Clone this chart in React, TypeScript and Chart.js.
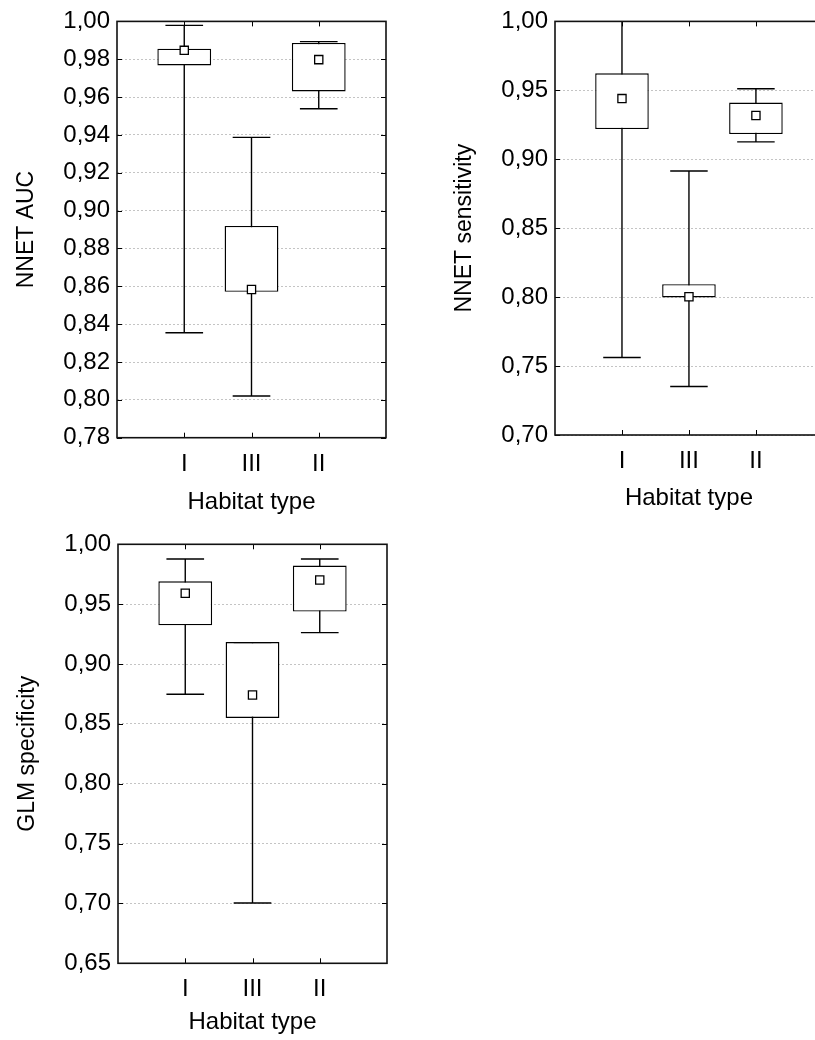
import { useEffect, useRef } from 'react';
import { Chart, registerables } from 'chart.js';
Chart.register(...registerables);

const FONT = "'Liberation Sans', Arial, sans-serif";

const categories = ['I', 'III', 'II'];
const xTitle = 'Habitat type';

// Panel 1: NNET AUC
const aucLabel = 'NNET AUC';
const aucWhiskerLow = [0.8355, 0.802, 0.9538];
const aucBoxLow = [0.9767, 0.8571, 0.963];
const aucBoxHigh = [0.9856, 0.8919, 0.9886];
const aucWhiskerHigh = [0.9979, 0.9387, 0.9893];
const aucCentre = [0.9847, 0.8583, 0.9798];
const aucAxis = [0.78, 1.0, 0.02];

// Panel 2: NNET sensitivity
const sensLabel = 'NNET sensitivity';
const sensWhiskerLow = [0.7562, 0.7352, 0.9126];
const sensBoxLow = [0.9219, 0.7998, 0.9183];
const sensBoxHigh = [0.9624, 0.8094, 0.9411];
const sensWhiskerHigh = [1.0, 0.8915, 0.9512];
const sensCentre = [0.944, 0.8003, 0.9318];
const sensAxis = [0.7, 1.0, 0.05];

// Panel 3: GLM specificity
const specLabel = 'GLM specificity';
const specWhiskerLow = [0.8747, 0.7004, 0.9262];
const specBoxLow = [0.9323, 0.8549, 0.9438];
const specBoxHigh = [0.9691, 0.9184, 0.9822];
const specWhiskerHigh = [0.9877, 0.9178, 0.9877];
const specCentre = [0.9591, 0.8741, 0.9702];
const specAxis = [0.65, 1.0, 0.05];

const framePlugin = {
  id: 'frameTicks',
  afterDraw(chart: any) {
    const { ctx, chartArea, scales } = chart;
    const { left, right, top, bottom } = chartArea;
    ctx.save();
    ctx.strokeStyle = '#000';
    ctx.lineWidth = 1;
    ctx.beginPath();
    scales.y.ticks.forEach((t: any) => {
      const py = Math.round(scales.y.getPixelForValue(t.value)) + 0.5;
      ctx.moveTo(left, py);
      ctx.lineTo(left + 5, py);
      ctx.moveTo(right, py);
      ctx.lineTo(right - 5, py);
    });
    scales.x.ticks.forEach((t: any) => {
      const px = Math.round(scales.x.getPixelForValue(t.value)) + 0.5;
      ctx.moveTo(px, bottom);
      ctx.lineTo(px, bottom - 5);
      ctx.moveTo(px, top);
      ctx.lineTo(px, top + 5);
    });
    ctx.stroke();
    ctx.lineWidth = 1.6;
    ctx.strokeStyle = '#111';
    ctx.strokeRect(left, top, right - left, bottom - top);
    ctx.restore();
  },
};

type PanelProps = {
  label: string;
  wLow: number[];
  bLow: number[];
  bHigh: number[];
  wHigh: number[];
  centre: number[];
  axis: number[];
  pos: { x: number; y: number; w: number; h: number; cw: number };
  area: { left: number; top: number; right: number; bottom: number };
  yTitlePad: number;
  xTitlePad: number;
};

function Panel(p: PanelProps) {
  const ref = useRef<HTMLCanvasElement>(null);
  useEffect(() => {
    if (!ref.current) return;
    const cap = 0.28;
    const whiskers: any[] = [];
    categories.forEach((_, i) => {
      const c = i + 1;
      whiskers.push({ x: c, y: p.wLow[i] }, { x: c, y: p.wHigh[i] }, { x: c, y: null });
      whiskers.push({ x: c - cap, y: p.wLow[i] }, { x: c + cap, y: p.wLow[i] }, { x: c, y: null });
      whiskers.push({ x: c - cap, y: p.wHigh[i] }, { x: c + cap, y: p.wHigh[i] }, { x: c, y: null });
    });
    const chart = new Chart(ref.current, {
      type: 'bar',
      data: {
        datasets: [
          {
            type: 'bar',
            data: categories.map((_, i) => ({ x: i + 1, y: [p.bLow[i], p.bHigh[i]] })) as any,
            backgroundColor: '#ffffff',
            borderColor: '#000',
            borderWidth: 1.4,
            borderSkipped: false,
            barPercentage: 0.8,
            categoryPercentage: 1,
            order: 1,
          } as any,
          {
            type: 'line',
            data: whiskers,
            borderColor: '#000',
            borderWidth: 1.4,
            pointRadius: 0,
            spanGaps: false,
            tension: 0,
            fill: false,
            order: 2,
          } as any,
          {
            type: 'scatter',
            data: categories.map((_, i) => ({ x: i + 1, y: p.centre[i] })),
            pointStyle: 'rect',
            pointRadius: 5.8,
            backgroundColor: '#ffffff',
            borderColor: '#000',
            borderWidth: 1.3,
            showLine: false,
            order: 0,
          } as any,
        ],
      },
      options: {
        animation: false,
        responsive: false,
        maintainAspectRatio: false,
        events: [],
        layout: {
          padding: {
            left: 0,
            top: p.area.top,
            right: p.pos.cw - p.area.right,
            bottom: 0,
          },
        },
        plugins: { legend: { display: false }, tooltip: { enabled: false } },
        scales: {
          x: {
            type: 'linear',
            min: 0,
            max: 4,
            offset: false,
            afterBuildTicks: (s: any) => {
              s.ticks = categories.map((_, i) => ({ value: i + 1 }));
            },
            afterFit: (s: any) => {
              s.height = p.pos.h - p.area.bottom;
            },
            grid: { display: false, drawTicks: false },
            border: { display: false },
            ticks: {
              autoSkip: false,
              maxRotation: 0,
              padding: 12,
              color: '#000',
              font: { family: FONT, size: 24 },
              callback: (v: any) => categories[Number(v) - 1] ?? '',
            },
            title: {
              display: true,
              text: xTitle,
              color: '#000',
              font: { family: FONT, size: 24 },
              padding: { top: 0, bottom: p.xTitlePad },
            },
          } as any,
          y: {
            type: 'linear',
            min: p.axis[0],
            max: p.axis[1],
            afterFit: (s: any) => {
              s.width = p.area.left;
            },
            grid: { color: '#c4c4c4', lineWidth: 1, drawTicks: false },
            border: { display: false, dash: [2, 2] },
            ticks: {
              stepSize: p.axis[2],
              autoSkip: false,
              padding: 7,
              color: '#000',
              font: { family: FONT, size: 24 },
              callback: (v: any) => Number(v).toFixed(2).replace('.', ','),
            },
            title: {
              display: true,
              text: p.label,
              color: '#000',
              font: { family: FONT, size: 23 },
              padding: { top: p.yTitlePad, bottom: 0 },
            },
          } as any,
        },
      },
      plugins: [framePlugin],
    });
    return () => chart.destroy();
  }, []);
  return (
    <div
      style={{
        position: 'absolute',
        left: p.pos.x,
        top: p.pos.y,
        width: p.pos.w,
        height: p.pos.h,
        overflow: 'hidden',
      }}
    >
      <canvas ref={ref} width={p.pos.cw} height={p.pos.h} style={{ display: 'block', width: p.pos.cw, height: p.pos.h }} />
    </div>
  );
}

export default function App() {
  return (
    <div style={{ position: 'absolute', left: 0, top: 0, width: 815, height: 1040, background: '#fff', overflow: 'hidden' }}>
      <Panel
        label={aucLabel}
        wLow={aucWhiskerLow}
        bLow={aucBoxLow}
        bHigh={aucBoxHigh}
        wHigh={aucWhiskerHigh}
        centre={aucCentre}
        axis={aucAxis}
        pos={{ x: 0, y: 0, w: 410, h: 520, cw: 410 }}
        area={{ left: 117, top: 20, right: 386, bottom: 437.7 }}
        yTitlePad={13}
        xTitlePad={3.5}
      />
      <Panel
        label={sensLabel}
        wLow={sensWhiskerLow}
        bLow={sensBoxLow}
        bHigh={sensBoxHigh}
        wHigh={sensWhiskerHigh}
        centre={sensCentre}
        axis={sensAxis}
        pos={{ x: 420, y: 0, w: 395, h: 520, cw: 410 }}
        area={{ left: 135, top: 17.3, right: 403, bottom: 435 }}
        yTitlePad={31}
        xTitlePad={7}
      />
      <Panel
        label={specLabel}
        wLow={specWhiskerLow}
        bLow={specBoxLow}
        bHigh={specBoxHigh}
        wHigh={specWhiskerHigh}
        centre={specCentre}
        axis={specAxis}
        pos={{ x: 0, y: 520, w: 410, h: 520, cw: 410 }}
        area={{ left: 118, top: 24.3, right: 387, bottom: 443.3 }}
        yTitlePad={14}
        xTitlePad={3.5}
      />
    </div>
  );
}
